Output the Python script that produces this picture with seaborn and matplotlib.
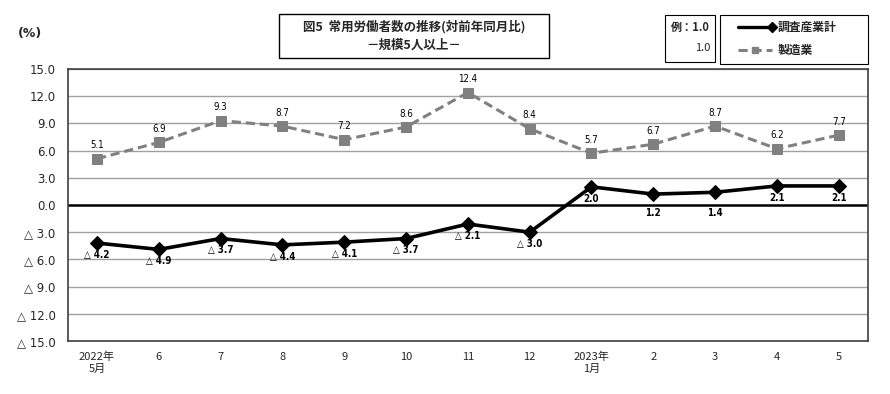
import numpy as np
import pandas as pd
import matplotlib.pyplot as plt
from matplotlib.patches import Rectangle
from matplotlib.lines import Line2D
import seaborn as sns

# data
months = ["2022年\n5月", "6", "7", "8", "9", "10", "11", "12",
          "2023年\n1月", "2", "3", "4", "5"]
total = [-4.2, -4.9, -3.7, -4.4, -4.1, -3.7, -2.1, -3.0, 2.0, 1.2, 1.4, 2.1, 2.1]
manuf = [5.1, 6.9, 9.3, 8.7, 7.2, 8.6, 12.4, 8.4, 5.7, 6.7, 8.7, 6.2, 7.7]
yticks = [15.0, 12.0, 9.0, 6.0, 3.0, 0.0, -3.0, -6.0, -9.0, -12.0, -15.0]

sns.set_theme(style="white")
plt.rcParams["font.family"] = ["Noto Sans CJK JP", "DejaVu Sans"]
NUM_FONT = ["DejaVu Sans"]

def fmt(v):
    return f"△ {abs(v):.1f}" if v < 0 else f"{v:.1f}"

df = pd.DataFrame({"x": np.arange(len(months)), "total": total, "manuf": manuf})

fig = plt.figure(figsize=(8.9, 3.94), dpi=100)
ax = fig.add_axes([0.0764, 0.1345, 0.8986, 0.6905])

for y in yticks:
    if y != 0:
        ax.axhline(y, color="#a0a0a0", lw=1.0, zorder=0)
ax.axhline(0, color="black", lw=1.8, zorder=1)

sns.lineplot(data=df, x="x", y="manuf", ax=ax, color="#808080", lw=2.2,
             linestyle=(0, (3, 1.6)), marker="s", markersize=7,
             markeredgecolor="#808080", zorder=3)
sns.lineplot(data=df, x="x", y="total", ax=ax, color="black", lw=2.6,
             marker="D", markersize=7, markeredgecolor="black", zorder=4)

for i, v in enumerate(manuf):
    ax.annotate(fmt(v), (i, v), xytext=(0, 6), textcoords="offset points",
                ha="center", va="bottom", fontsize=7, color="black",
                family=NUM_FONT, fontstretch="condensed")
for i, v in enumerate(total):
    # small positive values: label pushed below the zero line
    if 0 < v < 1.5:
        pos, off = (i, 0), (0, -2)
    else:
        pos, off = (i, v), (0, -5)
    ax.annotate(fmt(v), pos, xytext=off, textcoords="offset points",
                ha="center", va="top", fontsize=7, fontweight="bold",
                color="black", family=NUM_FONT, fontstretch="condensed")

ax.set_xlim(-0.47, len(months) - 0.53)
ax.set_ylim(-15, 15)
ax.set_yticks(yticks)
ax.set_yticklabels([fmt(v) for v in yticks], fontsize=8.5, family=NUM_FONT)
ax.set_xticks(df["x"])
ax.set_xticklabels(months, fontsize=8, va="top")
ax.tick_params(axis="both", length=0, pad=8)
ax.tick_params(axis="y", pad=9)
ax.set_xlabel("")
ax.set_ylabel("")
for s in ax.spines.values():
    s.set_color("#404040")
    s.set_linewidth(1.2)

# (%) label
fig.text(30 / 890, 1 - 33 / 394, "(%)", fontsize=9, fontweight="bold",
         ha="center", va="center", family=NUM_FONT)

# title box
fig.patches.append(Rectangle((279 / 890, 1 - 58 / 394), 270 / 890, 44 / 394,
                             transform=fig.transFigure, fill=False,
                             edgecolor="black", lw=1.0))
fig.text(414 / 890, 1 - 27 / 394, "図5  常用労働者数の推移(対前年同月比)",
         fontsize=9, fontweight="bold", ha="center", va="center")
fig.text(414 / 890, 1 - 45 / 394, "－規模5人以上－",
         fontsize=9, fontweight="bold", ha="center", va="center")

# example box
fig.patches.append(Rectangle((665 / 890, 1 - 62 / 394), 50 / 890, 47 / 394,
                             transform=fig.transFigure, fill=False,
                             edgecolor="black", lw=0.8))
fig.text(710 / 890, 1 - 27 / 394, "例：1.0", fontsize=8, fontweight="bold",
         ha="right", va="center")
fig.text(710 / 890, 1 - 48 / 394, "1.0", fontsize=8, ha="right", va="center")

# legend box
fig.patches.append(Rectangle((720 / 890, 1 - 64 / 394), 148 / 890, 49 / 394,
                             transform=fig.transFigure, fill=False,
                             edgecolor="black", lw=0.8))
fig.lines.append(Line2D([738 / 890, 772 / 890], [1 - 27 / 394] * 2,
                        transform=fig.transFigure, color="black", lw=2.4,
                        marker="D", markersize=5, markevery=[1]))
fig.lines.append(Line2D([738 / 890, 755 / 890, 772 / 890], [1 - 50 / 394] * 3,
                        transform=fig.transFigure, color="#808080", lw=2.2,
                        linestyle=(0, (3, 1.6)), marker="s", markersize=5,
                        markevery=[1]))
fig.text(778 / 890, 1 - 27 / 394, "調査産業計", fontsize=8.5, fontweight="bold",
         ha="left", va="center")
fig.text(778 / 890, 1 - 50 / 394, "製造業", fontsize=8.5, fontweight="bold",
         ha="left", va="center")

fig.savefig("out.png", dpi=100)
